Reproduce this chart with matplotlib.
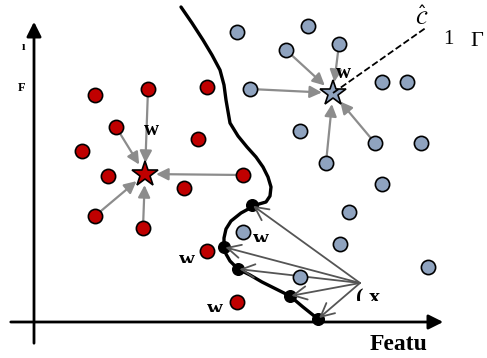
import matplotlib.pyplot as plt
from matplotlib.patches import Rectangle

# coordenadas (em pixels da imagem, y para baixo)
red_x = [95, 148, 207, 116, 198, 82, 108, 184, 243, 95, 143, 207, 237]
red_y = [95, 89, 87, 127, 139, 151, 176, 188, 175, 216, 228, 251, 302]
blue_x = [237, 308, 286, 339, 250, 382, 407, 300, 375, 421, 326, 382, 349, 340, 428, 243, 300]
blue_y = [32, 26, 50, 44, 89, 82, 82, 131, 143, 143, 163, 184, 212, 244, 267, 232, 277]

red_star = (145, 174)
blue_star = (333, 93)
red_idx = [1, 3, 8, 9, 10]      # vizinhos ligados a estrela vermelha
blue_idx = [2, 3, 4, 8, 10]     # vizinhos ligados a estrela azul

# fronteira de decisao
bound_x = [181, 192, 203, 212, 220, 224, 226, 230, 238, 247, 256, 263, 268, 271, 270, 266,
           259, 252, 241, 231, 226, 224, 224, 226, 230, 238, 250, 262, 276, 290, 303, 318]
bound_y = [7, 23, 40, 55, 70, 85, 100, 123, 136, 147, 157, 167, 177, 187, 196, 202,
           204, 207, 213, 221, 229, 238, 247, 254, 261, 269, 275, 282, 289, 296, 307, 319]
bound_dots_x = [252, 224, 238, 290, 318]
bound_dots_y = [205, 247, 269, 296, 319]
query = (360, 283)

RED = '#c00000'
BLUE = '#8fa3bf'
GRAY = '#8c8c8c'

fig = plt.figure(figsize=(4.87, 3.58), dpi=100)
ax = fig.add_axes([0, 0, 1, 1])
ax.set_xlim(0, 487)
ax.set_ylim(358, 0)
ax.axis('off')

# eixos com setas
ax.annotate('', xy=(446, 322), xytext=(8, 322), zorder=10,
            arrowprops=dict(arrowstyle='-|>', lw=2, color='k', mutation_scale=22))
ax.annotate('', xy=(34, 19), xytext=(34, 346), zorder=10,
            arrowprops=dict(arrowstyle='-|>', lw=2, color='k', mutation_scale=22))

# fronteira
ax.plot(bound_x, bound_y, color='k', lw=2.4, zorder=3, solid_capstyle='round')
ax.scatter(bound_dots_x, bound_dots_y, s=70, color='k', zorder=4)

# setas do ponto de consulta ate a fronteira
for bx, by in zip(bound_dots_x, bound_dots_y):
    ax.annotate('', xy=(bx, by), xytext=query,
                arrowprops=dict(arrowstyle='->', lw=1.3, color='#555555',
                                mutation_scale=24, shrinkA=0, shrinkB=1), zorder=5)

# setas dos vizinhos ate as estrelas
for i in red_idx:
    ax.annotate('', xy=red_star, xytext=(red_x[i], red_y[i]),
                arrowprops=dict(arrowstyle='-|>', lw=1.6, color=GRAY,
                                mutation_scale=18, shrinkA=0, shrinkB=8), zorder=2)
for i in blue_idx:
    ax.annotate('', xy=blue_star, xytext=(blue_x[i], blue_y[i]),
                arrowprops=dict(arrowstyle='-|>', lw=1.6, color=GRAY,
                                mutation_scale=18, shrinkA=0, shrinkB=8), zorder=2)

ax.scatter(red_x, red_y, s=105, color=RED, edgecolors='k', linewidths=1.2, zorder=6)
ax.scatter(blue_x, blue_y, s=105, color=BLUE, edgecolors='k', linewidths=1.2, zorder=6)

ax.plot(*red_star, marker='*', ms=19, color=RED, mec='k', mew=1.2, zorder=7)
ax.plot(*blue_star, marker='*', ms=19, color=BLUE, mec='k', mew=1.2, zorder=7)

# linha tracejada C chapeu
ax.plot([blue_star[0], 427], [blue_star[1], 27], ls='--', color='k', lw=1.3, zorder=7)
ax.text(422, 17, r'$\hat{\mathcal{C}}$', fontsize=14, ha='center', va='center')

serif = dict(family='Liberation Serif', weight='bold')
ax.text(343, 73, 'w', fontsize=15, ha='center', va='center', zorder=8, **serif)
ax.text(151, 130, 'w', fontsize=15, ha='center', va='center', zorder=8, **serif)
ax.text(399, 345, 'Featu', fontsize=17, ha='center', va='center', **serif)
ax.text(448, 40, '1', fontsize=15, ha='center', va='center', family='Liberation Serif')
ax.text(477, 41, 'Γ', fontsize=16, ha='center', va='center', family='Liberation Serif')

# rotulos cortados pela parte de baixo (retangulo branco por cima)
for (tx, ty, s, w) in [(187, 265, 'w', 26), (261, 244, 'w', 26), (215, 314, 'w', 26), (368, 303, '( x', 34)]:
    ax.text(tx, ty, s, fontsize=16, ha='center', va='baseline', zorder=8, **serif)
    ax.add_patch(Rectangle((tx - w / 2, ty - 2.5), w, 8, color='white', lw=0, zorder=9))

ax.text(24, 47, 'ı', fontsize=9, ha='center', va='center', **serif)
ax.text(22, 88, 'F', fontsize=9, ha='center', va='center', **serif)

fig.savefig('out.png', dpi=100)
